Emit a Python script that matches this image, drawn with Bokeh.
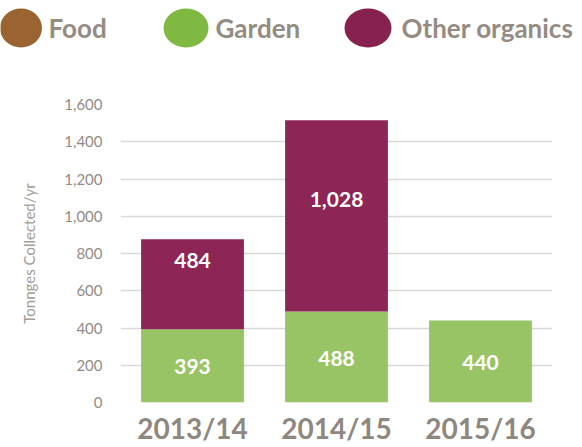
from bokeh.plotting import figure
from bokeh.models import ColumnDataSource, FactorRange, Range1d, SingleIntervalTicker, NumeralTickFormatter
from bokeh.core.properties import value
from bokeh.embed import file_html
from bokeh.resources import INLINE

years = ["2013/14", "2014/15", "2015/16"]
food = [0, 0, 0]
garden = [393, 488, 440]
other = [484, 1028, 0]
series = ["Food", "Garden", "Other organics"]
colors = ["#9A6430", "#98C465", "#8E2557"]
legend_colors = ["#9A6430", "#80B941", "#862150"]

TEXT_GRAY = "#948B83"

# ---------- legend strip ----------
leg = figure(width=582, height=60, x_range=Range1d(0, 582), y_range=Range1d(60, 0),
             output_backend="svg", toolbar_location=None, min_border=0)
leg.axis.visible = False
leg.grid.visible = False
leg.outline_line_color = None
leg_x = [20.5, 185.5, 367.5]
leg_text_x = [48, 215, 401]
leg.ellipse(x=leg_x, y=[27.5] * 3, width=[42, 45, 47], height=[39, 39, 39],
            fill_color=legend_colors, line_color=None)
leg.text(x=leg_text_x, y=[27] * 3, text=series, text_color=TEXT_GRAY,
         text_font=value("Lato"), text_font_style="bold", text_font_size="26px",
         text_baseline="middle", text_align="left")

# ---------- main chart ----------
src = ColumnDataSource(dict(years=years, food=food, garden=garden, other=other))
p = figure(width=582, height=387, x_range=FactorRange(*years, range_padding=0),
           y_range=Range1d(0, 1600), output_backend="svg", toolbar_location=None,
           min_border_left=120, min_border_right=30, min_border_top=44, min_border_bottom=0)
p.outline_line_color = None
p.vbar_stack(["food", "garden", "other"], x="years", width=0.714, color=colors,
             source=src, line_color=None)

p.xgrid.grid_line_color = None
p.ygrid.grid_line_color = "#D9D9D9"
p.ygrid.grid_line_width = 1.6

p.yaxis.ticker = SingleIntervalTicker(interval=200)
p.yaxis.formatter = NumeralTickFormatter(format="0,0")
p.yaxis.axis_line_color = None
p.yaxis.major_tick_line_color = None
p.yaxis.minor_tick_line_color = None
p.yaxis.major_tick_out = 0
p.yaxis.major_tick_in = 0
p.yaxis.minor_tick_out = 0
p.yaxis.major_label_standoff = 18
p.yaxis.major_label_text_font = "Lato"
p.yaxis.major_label_text_font_size = "15px"
p.yaxis.major_label_text_color = TEXT_GRAY
p.yaxis.axis_label = "Tonnges Collected/yr"
p.yaxis.axis_label_text_font = "Lato"
p.yaxis.axis_label_text_font_style = "normal"
p.yaxis.axis_label_text_font_size = "15px"
p.yaxis.axis_label_text_color = "#A39D96"
p.yaxis.axis_label_standoff = 23

p.xaxis.axis_line_color = None
p.xaxis.major_tick_line_color = None
p.xaxis.minor_tick_line_color = None
p.xaxis.major_tick_out = 0
p.xaxis.major_tick_in = 0
p.xaxis.minor_tick_out = 0
p.xaxis.major_label_standoff = 8
p.xaxis.major_label_text_font = "Lato"
p.xaxis.major_label_text_font_style = "bold"
p.xaxis.major_label_text_font_size = "28px"
p.xaxis.major_label_text_color = "#8F877F"

# data labels
lx, ly, lt, loff = [], [], [], []
for i, yr in enumerate(years):
    if garden[i]:
        lx.append(yr); ly.append(garden[i] / 2); lt.append(f"{garden[i]:,}"); loff.append(1)
    if other[i]:
        lx.append(yr); ly.append(garden[i] + other[i] / 2); lt.append(f"{other[i]:,}")
        loff.append(-24 if other[i] < 600 else -16)
lsrc = ColumnDataSource(dict(x=lx, y=ly, t=lt, off=loff))
p.text(x="x", y="y", text="t", y_offset="off", source=lsrc, text_color="white",
       text_font=value("Lato"), text_font_style="bold", text_font_size="21px",
       text_align="center", text_baseline="middle")

open("out.html", "w").write(file_html([leg, p], INLINE))
